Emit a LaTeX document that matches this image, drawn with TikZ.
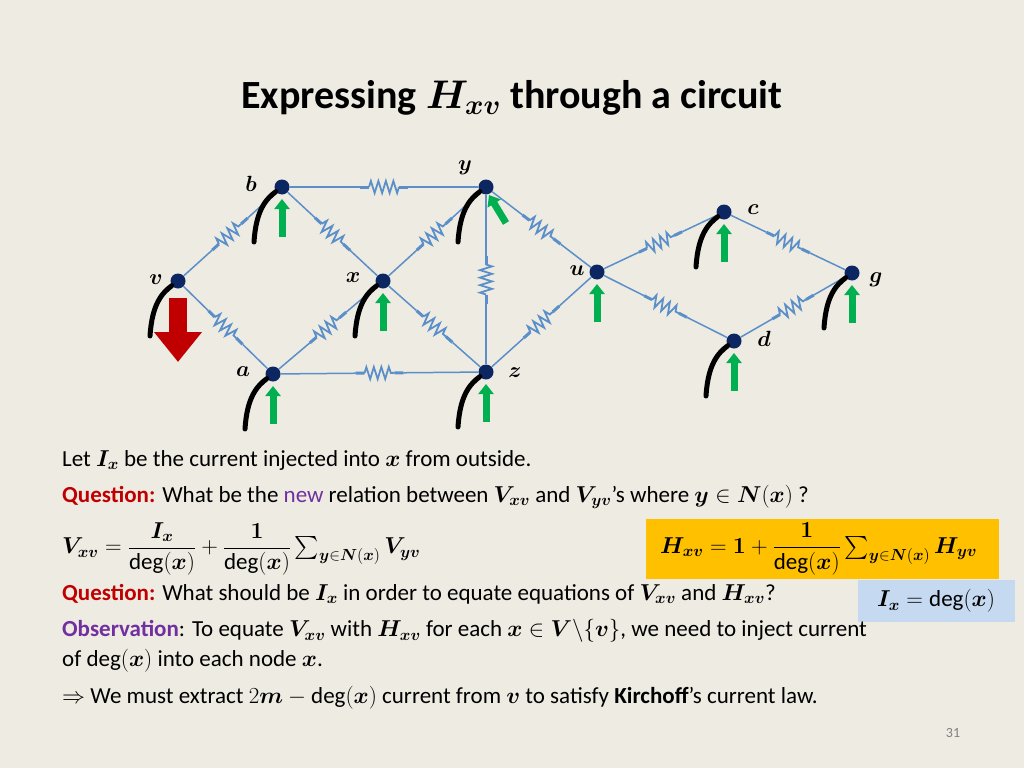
\RequirePackage{fix-cm}
\documentclass[tikz,border=0pt]{standalone}
\usepackage{amsmath}
\usepackage{amssymb}
\usepackage{bm}
\usepackage{fontspec}
\setmainfont{Carlito}
\usetikzlibrary{arrows.meta,decorations.pathmorphing,calc}
\definecolor{bgc}{HTML}{EEEBE2}
\definecolor{wireblue}{HTML}{5B8FC9}
\definecolor{dotblue}{HTML}{0B2660}
\definecolor{gr}{HTML}{00B050}
\definecolor{rd}{HTML}{C00000}
\definecolor{qred}{HTML}{C00000}
\definecolor{obs}{HTML}{7030A0}
\definecolor{newc}{HTML}{7030A0}
\definecolor{gold}{HTML}{FFC000}
\definecolor{lblue}{HTML}{C5D9F1}
\tikzset{
  vert/.style  = {circle, fill=dotblue, inner sep=0pt, minimum size=15},
  lbl/.style   = {font=\fontsize{22}{24}\selectfont},
  edge/.style  = {draw=wireblue, line width=1.5},
  wire/.style  = {line width=5, line cap=round},
  inj/.style   = {gr, line width=7, -{Triangle[width=15,length=10]}},
  txt/.style   = {anchor=west, inner sep=0pt, font=\fontsize{23}{26}\selectfont},
  res/.pic     = {
    \fill[bgc] (-24,-6) rectangle (24,6);
    \draw[line width=3] (-24,0) -- (-15,0) (15,0) -- (24,0);
    \draw[wireblue, line width=1.8, decorate,
      decoration={zigzag, segment length=7.5, amplitude=6}] (-15,0) -- (15,0);
  }
}
\newcommand{\bv}[1]{\boldsymbol{#1}}
\begin{document}
\begin{tikzpicture}[x=1pt, y=-1pt]
  \fill[bgc] (0,0) rectangle (1024,768);
  \useasboundingbox (0,0) rectangle (1024,768);
  \node[font=\fontsize{40}{44}\selectfont\bfseries] (title) at (512,98)
    {Expressing $\bv{H_{xv}}$ through a circuit};
  % vertices
  \node[vert] (b) at (282,187) {};
  \node[vert] (y) at (486,187) {};
  \node[vert] (c) at (724,212) {};
  \node[vert] (v) at (178,281) {};
  \node[vert] (x) at (383,281) {};
  \node[vert] (u) at (597,272) {};
  \node[vert] (g) at (852,273) {};
  \node[vert] (d) at (734,341) {};
  \node[vert] (a) at (273,374) {};
  \node[vert] (z) at (486,372) {};
  % labels
  \node[lbl] (lb) at (251,184) {$\bv{b}$};
  \node[lbl] (ly) at (465,168) {$\bv{y}$};
  \node[lbl] (lc) at (753,210) {$\bv{c}$};
  \node[lbl] (lv) at (156,280) {$\bv{v}$};
  \node[lbl] (lx) at (353,278) {$\bv{x}$};
  \node[lbl] (lu) at (577,271) {$\bv{u}$};
  \node[lbl] (lg) at (876,280) {$\bv{g}$};
  \node[lbl] (ld) at (764,339) {$\bv{d}$};
  \node[lbl] (la) at (243,372) {$\bv{a}$};
  \node[lbl] (lz) at (515,373) {$\bv{z}$};
  % edges with resistors
  \foreach \s/\t in {v/b, v/a, b/y, b/x, x/y, y/z, y/u, x/a, x/z, a/z, z/u, u/c, u/d, c/g, d/g}
    \path[edge] (\s) -- (\t) pic[pos=.5, sloped] {res};
  % wires
  \foreach \n in {b,y,x,a,z,c,g,d,v}
    \draw[wire] ($(\n)+(-28,55)$) .. controls +(2,-32) and +(-16,12) .. (\n);
  % injected currents
  \foreach \n in {b,x,a,z,u,c,g,d}
    \draw[inj] ($(\n)+(0,50)$) -- ($(\n)+(0,12)$);
  \draw[inj] ($(y)+(20,36)$) -- ($(y)+(3,8)$);
  \draw[rd, line width=18, -{Triangle[width=46,length=30]}] (178,298) -- (178,362);
  % text
  \node[txt] (t1) at (62,460) {Let $\bv{I_x}$ be the current injected into $\bv{x}$ from outside.};
  \node[txt] (t2) at (62,497) {\textcolor{qred}{\bfseries Question:} What be the \textcolor{newc}{new} relation between $\bv{V_{xv}}$ and $\bv{V_{yv}}$'s where $\bv{y}\in\bv{N}(\bv{x})$ ?};
  \node[txt] (t3) at (62,549) {$\bv{V_{xv}}=\dfrac{\bv{I_x}}{\deg(\bv{x})}+\dfrac{\bm 1}{\deg(\bv{x})}\sum_{\bv{y}\in\bv{N}(\bv{x})}\bv{V_{yv}}$};
  \node[fill=gold, minimum width=353, minimum height=60] (hbox) at (822,549) {};
  \node[txt] (t4) at (660,549) {$\bv{H_{xv}}=\bv{1}+\dfrac{\bm 1}{\deg(\bv{x})}\sum_{\bv{y}\in\bv{N}(\bv{x})}\bv{H_{yv}}$};
  \node[txt] (t5) at (62,594) {\textcolor{qred}{\bfseries Question:} What should be $\bv{I_x}$ in order to equate equations of $\bv{V_{xv}}$ and $\bv{H_{xv}}$?};
  \node[fill=lblue, minimum width=157, minimum height=42, font=\fontsize{23}{26}\selectfont] (ibox) at (936,601) {$\bv{I_x}=\deg(\bv{x})$};
  \node[txt] (t6) at (62,631) {\textcolor{obs}{\bfseries Observation}: To equate $\bv{V_{xv}}$ with $\bv{H_{xv}}$ for each $\bv{x}\in\bv{V}\backslash\{\bv{v}\}$,\ we need to inject current};
  \node[txt] (t7) at (62,661) {of $\deg(\bv{x})$ into each node $\bv{x}$.};
  \node[txt] (t8) at (62,698) {$\Rightarrow$ We must extract $2\bv{m}-\deg(\bv{x})$ current from $\bv{v}$ to satisfy \textbf{Kirchoff}'s current law.};
  \node[font=\fontsize{14}{16}\selectfont, text=gray] (pg) at (953,733) {31};
\end{tikzpicture}
\end{document}
